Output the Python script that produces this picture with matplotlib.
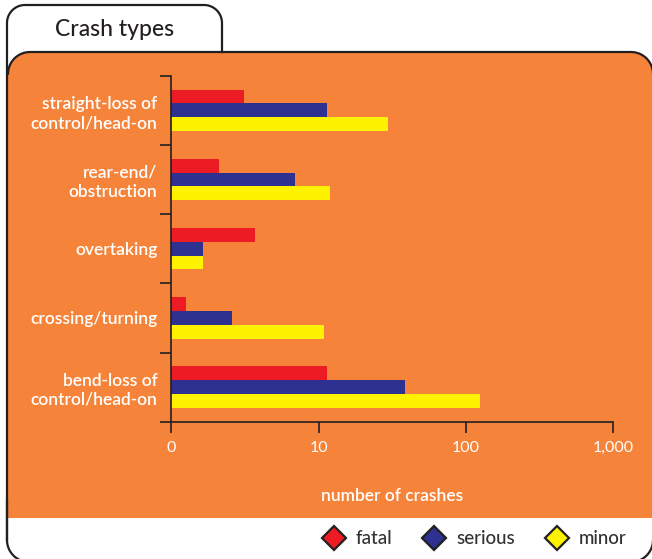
import numpy as np
import matplotlib
matplotlib.use("Agg")
import matplotlib.pyplot as plt
from matplotlib.lines import Line2D

# data (log x-axis)
categories = ["bend-loss of\ncontrol/head-on", "crossing/turning", "overtaking",
              "rear-end/\nobstruction", "straight-loss of\ncontrol/head-on"]
fatal = [11.4, 1.26, 3.7, 2.1, 3.1]
serious = [38.6, 2.6, 1.64, 6.9, 11.4]
minor = [125, 10.9, 1.64, 11.9, 29.6]
xticks = [1, 10, 100, 1000]
xtick_labels = ["0", "10", "100", "1,000"]
series_names = ["fatal", "serious", "minor"]

C_ORANGE = "#F5843A"
C_FATAL, C_SERIOUS, C_MINOR = "#ED1C24", "#2E3190", "#FFF200"
C_LINE = "#231F20"
FONT = "Lato"

W, H = 652, 559
fig = plt.figure(figsize=(W / 100, H / 100), dpi=100)
fig.patch.set_facecolor("white")

# ── background panels drawn in pixel coords ──
bg = fig.add_axes([0, 0, 1, 1], zorder=0)
bg.set_xlim(0, W); bg.set_ylim(H, 0); bg.axis("off")


def arc(cx, cy, r, a0, a1, n=20):
    t = np.radians(np.linspace(a0, a1, n))
    return list(zip(cx + r * np.cos(t), cy + r * np.sin(t)))


# orange panel (rounded top corners)
pts = [(8, 518)] + arc(30, 74, 22, 180, 270) + arc(631, 74, 22, 270, 360) + [(653, 518)]
bg.fill(*zip(*pts), color=C_ORANGE, lw=0)
top = arc(30, 74, 22, 180, 270) + arc(631, 74, 22, 270, 360)
bg.plot(*zip(*top), color=C_LINE, lw=1.6, solid_capstyle="round")

# outer outline with title tab
outer = [(7, 540)] + [(7, 23)] + arc(25, 23, 18, 180, 270) + arc(204, 23, 18, 270, 360) + [(222, 52)]
bg.plot(*zip(*outer), color=C_LINE, lw=1.6)
bg.plot(*zip(*([(7, 500)] + arc(29, 540, 22, 180, 90))), color=C_LINE, lw=1.6)
bg.plot(*zip(*arc(631, 540, 22, 90, 0)), color=C_LINE, lw=1.6)
bg.text(115, 29, "Crash types", ha="center", va="center", fontsize=16.5,
        color=C_LINE, family=FONT, fontweight="medium")

# ── bar chart ──
ax = fig.add_axes([171.3 / W, 1 - 421.7 / H, 442 / W, 346 / H], zorder=1)
ax.patch.set_alpha(0)
y = np.arange(len(categories))
h = 0.2
ax.barh(y + h, fatal, h, color=C_FATAL, log=True)
ax.barh(y, serious, h, color=C_SERIOUS, log=True)
ax.barh(y - h, minor, h, color=C_MINOR, log=True)
ax.set_xscale("log")
ax.set_xlim(1, 1000)
ax.set_ylim(-0.5, len(categories) - 0.5)

ax.set_xticks(xticks)
ax.set_xticklabels(xtick_labels)
ax.xaxis.set_minor_locator(matplotlib.ticker.NullLocator())
ax.set_yticks(np.arange(-0.5, len(categories), 1.0))
ax.set_yticklabels([])
ax.set_yticks(y, minor=True)
ax.set_yticklabels(categories, minor=True, ha="right", linespacing=1.25)
ax.tick_params(axis="y", which="major", direction="out", length=8, width=1.2, color=C_LINE)
ax.tick_params(axis="y", which="minor", length=0, pad=10, labelsize=12.5, labelcolor="white")
ax.tick_params(axis="x", direction="out", length=8, width=1.2, color=C_LINE,
               pad=6, labelsize=11.5, labelcolor="white")
for lbl in ax.get_xticklabels():
    lbl.set_family(FONT)
for lbl in ax.get_yticklabels(minor=True):
    lbl.set_family(FONT)
    lbl.set_fontweight("semibold")
for s in ("top", "right"):
    ax.spines[s].set_visible(False)
for s in ("left", "bottom"):
    ax.spines[s].set_color(C_LINE)
    ax.spines[s].set_linewidth(1.2)

fig.text(392 / W, 1 - 496 / H, "number of crashes", ha="center", va="center",
         color="white", fontsize=12.5, family=FONT, fontweight="semibold")

# legend
handles = [Line2D([], [], ls="none", marker="D", ms=12, mfc=c, mec=C_LINE, mew=1.6)
           for c in (C_FATAL, C_SERIOUS, C_MINOR)]
leg = fig.legend(handles, series_names, loc="center", bbox_to_anchor=(475.5 / W, 1 - 539 / H),
                 ncol=3, frameon=False, handlelength=1.0, handletextpad=0.7,
                 columnspacing=1.7, prop={"family": FONT, "size": 13.5, "weight": "medium"})
for t in leg.get_texts():
    t.set_color("#333333")

fig.savefig("out.png", dpi=100, facecolor="white")
